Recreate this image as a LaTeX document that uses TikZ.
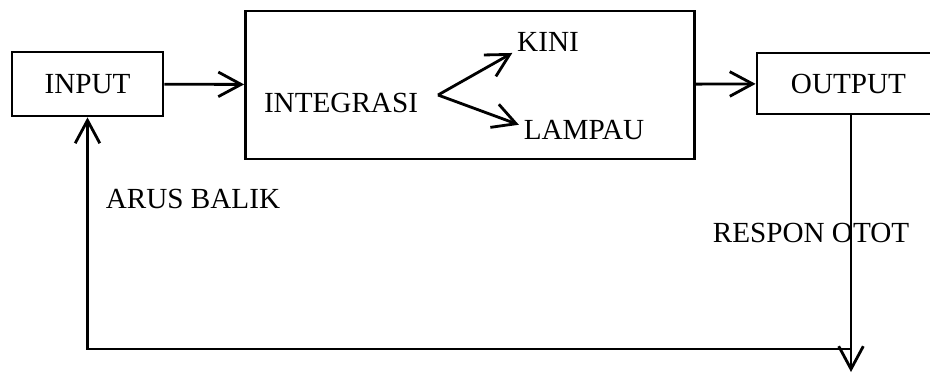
\documentclass[tikz,border=0pt]{standalone}
\usepackage{fontspec}
\setmainfont{Liberation Serif}
\usetikzlibrary{arrows.meta}

\begin{document}
\begin{tikzpicture}[line width=0.8pt,
  box/.style={draw,line width=0.8pt,inner sep=0pt},
  lbl/.style={font=\fontsize{8.3}{10}\selectfont},
  ar/.style={-{Straight Barb[length=6.5pt,width=7pt,line width=0.8pt]}}]
\clip (0,0) rectangle (9.30,3.74);
% boxes
\node[box,lbl,minimum width=1.51cm,minimum height=0.64cm] (input) at (0.875,2.90) {INPUT};
\node[box,minimum width=4.49cm,minimum height=1.48cm] (integ) at (4.70,2.89) {};
\node[box,lbl,minimum width=1.83cm,minimum height=0.61cm] (output) at (8.485,2.905) {OUTPUT};
% texts
\node[lbl] (integrasi) at (3.41,2.71) {INTEGRASI};
\node[lbl,inner sep=0pt] (kini) at (5.48,3.32) {KINI};
\node[lbl,inner sep=0pt] (lampau) at (5.84,2.44) {LAMPAU};
\node[lbl] (arus) at (1.93,1.75) {ARUS BALIK};
\node[lbl] (respon) at (8.11,1.41) {RESPON OTOT};
\coordinate (fork) at (4.38,2.79);
\coordinate (turn) at (8.51,0.25);
\coordinate (bottom) at (8.51,0.02);
% arrows
\draw[ar] (input) -- (integ);
\draw[ar] (integ) -- (output);
\draw[ar] (fork) -- ([xshift=-1pt]kini.south west);
\draw[ar] (fork) -- ([xshift=-1pt,yshift=1.5pt]lampau.west);
\draw[ar] (output.south -| turn) -- (bottom);
\draw[ar] (turn) -- (turn -| input) -- (input);
\end{tikzpicture}
\end{document}
